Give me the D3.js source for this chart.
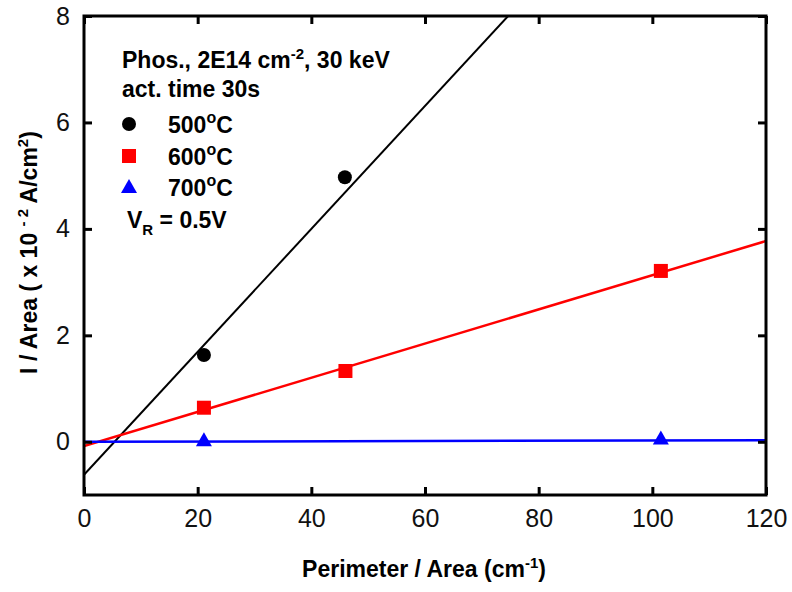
<!DOCTYPE html>
<html><head><meta charset="utf-8">
<script src="https://cdn.jsdelivr.net/npm/d3@7"></script>
<style>body{margin:0;background:#fff}svg{display:block;font-family:"Liberation Sans",Arial,sans-serif}</style>
</head><body><svg id="c" width="792" height="592"></svg>
<script>
// ---- data ----
const series = ["500°C", "600°C", "700°C"];
const colors = ["#000000", "#ff0000", "#0000ff"];
const shapes = ["circle", "square", "triangle"];
const x500 = [21.1, 45.9];
const y500 = [1.63, 4.97];
const x600 = [21.1, 46.0, 101.5];
const y600 = [0.64, 1.33, 3.21];
const x700 = [21.1, 101.5];
const y700 = [0.03, 0.06];
const fitIntercept = [-0.62, -0.08, 0.0];
const fitSlope = [0.1155, 0.0321, 0.00025];
const xTicks = [0, 20, 40, 60, 80, 100, 120];
const yTicks = [0, 2, 4, 6, 8];
const xDomain = [0, 120];
const yDomain = [-1, 8];

const svg = d3.select("#c");
const L = 84, R = 766, T = 16, B = 495;
const x = d3.scaleLinear().domain(xDomain).range([L, R]);
const y = d3.scaleLinear().domain(yDomain).range([B, T]);

svg.append("defs").append("clipPath").attr("id", "clip")
  .append("rect").attr("x", L).attr("y", T).attr("width", R - L).attr("height", B - T);

// fit lines
const g = svg.append("g").attr("clip-path", "url(#clip)");
fitSlope.forEach((m, i) => {
  const b = fitIntercept[i];
  g.append("line")
    .attr("x1", x(xDomain[0])).attr("y1", y(b + m * xDomain[0]))
    .attr("x2", x(xDomain[1])).attr("y2", y(b + m * xDomain[1]))
    .attr("stroke", colors[i]).attr("stroke-width", i === 0 ? 2 : 2.5);
});

// markers
function marker(sel, shape, color, cx, cy) {
  if (shape === "circle") sel.append("circle").attr("cx", cx).attr("cy", cy).attr("r", 7).attr("fill", color);
  else if (shape === "square") sel.append("rect").attr("x", cx - 7).attr("y", cy - 7).attr("width", 14).attr("height", 14).attr("fill", color);
  else sel.append("path").attr("d", `M${cx},${cy - 8}L${cx + 8},${cy + 6}L${cx - 8},${cy + 6}Z`).attr("fill", color);
}
const sets = [[x500, y500], [x600, y600], [x700, y700]];
sets.forEach(([xs, ys], i) => {
  xs.forEach((xv, j) => marker(svg, shapes[i], colors[i], x(xv), y(ys[j])));
});

// axes
const tickLen = 8;
const ax = svg.append("g");
ax.append("g").attr("transform", `translate(0,${B})`).call(d3.axisBottom(x).tickValues(xTicks).tickSizeInner(-tickLen).tickSizeOuter(0).tickPadding(14));
ax.append("g").attr("transform", `translate(0,${T})`).call(d3.axisTop(x).tickValues(xTicks).tickSizeInner(-tickLen).tickSizeOuter(0).tickFormat(""));
ax.append("g").attr("transform", `translate(${L},0)`).call(d3.axisLeft(y).tickValues(yTicks).tickSizeInner(-tickLen).tickSizeOuter(0).tickPadding(14));
ax.append("g").attr("transform", `translate(${R},0)`).call(d3.axisRight(y).tickValues(yTicks).tickSizeInner(-tickLen).tickSizeOuter(0).tickFormat(""));
ax.selectAll(".domain").remove();
ax.selectAll(".tick line").attr("stroke", "#000").attr("stroke-width", 3);
ax.selectAll(".tick text").attr("font-size", 25).attr("fill", "#111").attr("font-family", "Liberation Sans, Arial, sans-serif");
svg.append("rect").attr("x", L).attr("y", T).attr("width", R - L).attr("height", B - T)
  .attr("fill", "none").attr("stroke", "#000").attr("stroke-width", 3);

// axis titles
const FS = 23, SS = 15;
const xtitle = svg.append("text").attr("x", (L + R) / 2 - 1).attr("y", 577).attr("text-anchor", "middle")
  .attr("font-size", FS).attr("font-weight", "bold");
xtitle.append("tspan").text("Perimeter / Area (cm");
xtitle.append("tspan").attr("dy", -9).attr("font-size", SS).text("-1");
xtitle.append("tspan").attr("dy", 9).text(")");

const ytitle = svg.append("text").attr("transform", `translate(37,${(T + B) / 2 - 3}) rotate(-90)`)
  .attr("text-anchor", "middle").attr("font-size", FS).attr("font-weight", "bold");
ytitle.append("tspan").text("I / Area ( x 10 ");
ytitle.append("tspan").attr("dy", -9).attr("font-size", SS).text("- 2");
ytitle.append("tspan").attr("dy", 9).text(" A/cm");
ytitle.append("tspan").attr("dy", -9).attr("font-size", SS).text("2");
ytitle.append("tspan").attr("dy", 9).text(")");

// annotation / legend
const ann = svg.append("g").attr("font-weight", "bold").attr("font-size", FS);
const t1 = ann.append("text").attr("x", 122).attr("y", 68);
t1.append("tspan").text("Phos., 2E14 cm");
t1.append("tspan").attr("dy", -9).attr("font-size", SS).text("-2");
t1.append("tspan").attr("dy", 9).text(", 30 keV");
ann.append("text").attr("x", 122).attr("y", 97).text("act. time 30s");
const legY = [124, 156, 187];
series.forEach((s, i) => {
  marker(svg, shapes[i], colors[i], 129, legY[i]);
  const t = ann.append("text").attr("x", 168).attr("y", legY[i] + 9);
  t.append("tspan").text(s.slice(0, 3));
  t.append("tspan").attr("dy", -10).attr("font-size", 16).text("o");
  t.append("tspan").attr("dy", 10).text("C");
});
const vr = ann.append("text").attr("x", 127).attr("y", 228);
vr.append("tspan").text("V");
vr.append("tspan").attr("dy", 7).attr("font-size", SS).text("R");
vr.append("tspan").attr("dy", -7).text(" = 0.5V");
</script></body></html>
